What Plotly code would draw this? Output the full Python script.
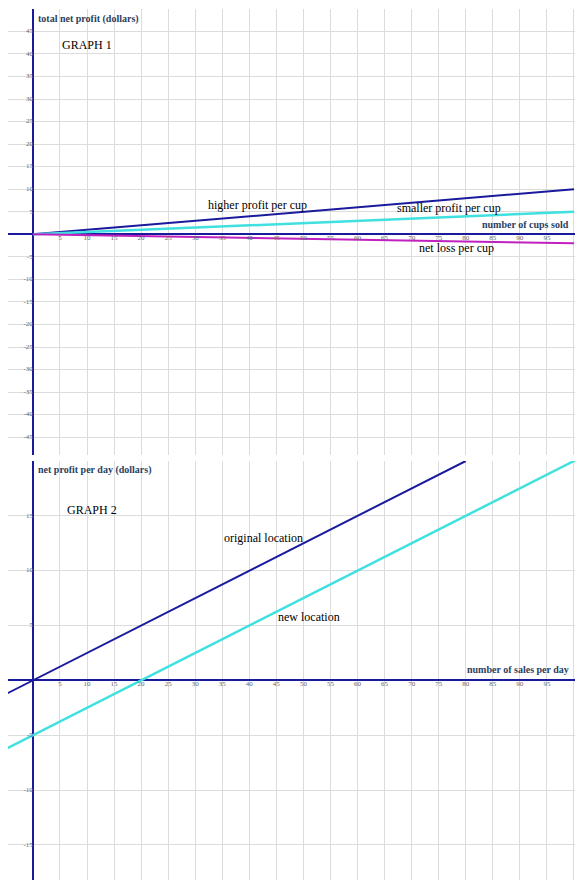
import plotly.graph_objects as go

x_end = [0, 100]
higher = [0, 10]
smaller = [0, 5]
loss = [0, -2]
x2_orig = [-6, 80]
orig = [-1.5, 20]
x2_new = [-6, 102]
new = [-6.5, 20.5]

xt = list(range(5, 100, 5))
yt1 = [v for v in range(-45, 50, 5) if v != 0]
yt2 = [-15, -10, -5, 5, 10, 15]

navy = "#1a1a9c"
cyan = "#40e0e0"
mag = "#c020c0"
font = dict(family="Liberation Serif", size=12, color="black")
tickfont = dict(family="Liberation Serif", size=7, color="#666666")

fig = go.Figure()
# graph 1
fig.add_trace(go.Scatter(x=x_end, y=higher, mode="lines", line=dict(color=navy, width=2), xaxis="x", yaxis="y"))
fig.add_trace(go.Scatter(x=x_end, y=smaller, mode="lines", line=dict(color=cyan, width=2.5), xaxis="x", yaxis="y"))
fig.add_trace(go.Scatter(x=x_end, y=loss, mode="lines", line=dict(color=mag, width=2), xaxis="x", yaxis="y"))
fig.add_trace(go.Scatter(x=xt, y=[0] * len(xt), mode="text", text=[str(v) for v in xt], textposition="bottom center",
                         textfont=tickfont, xaxis="x", yaxis="y"))
fig.add_trace(go.Scatter(x=[0] * len(yt1), y=yt1, mode="text", text=[str(v) for v in yt1], textposition="middle left",
                         textfont=tickfont, xaxis="x", yaxis="y"))
# graph 2
fig.add_trace(go.Scatter(x=x2_orig, y=orig, mode="lines", line=dict(color=navy, width=2), xaxis="x2", yaxis="y2"))
fig.add_trace(go.Scatter(x=x2_new, y=new, mode="lines", line=dict(color=cyan, width=2.5), xaxis="x2", yaxis="y2"))
fig.add_trace(go.Scatter(x=xt, y=[0] * len(xt), mode="text", text=[str(v) for v in xt], textposition="bottom center",
                         textfont=tickfont, xaxis="x2", yaxis="y2"))
fig.add_trace(go.Scatter(x=[0] * len(yt2), y=yt2, mode="text", text=[str(v) for v in yt2], textposition="middle left",
                         textfont=tickfont, xaxis="x2", yaxis="y2"))

grid = dict(showgrid=True, gridcolor="#dcdcdc", gridwidth=1, showticklabels=False, ticks="",
            zeroline=True, zerolinecolor=navy, zerolinewidth=1.5, showline=False, fixedrange=True)
# the page body adds an 8px margin, so domains are shifted up/left to compensate
fig.update_layout(
    width=587, height=891, showlegend=False,
    margin=dict(l=0, r=0, t=0, b=0),
    paper_bgcolor="white", plot_bgcolor="white",
    xaxis=dict(grid, domain=[0, 0.966], range=[-4.6, 100.2], dtick=5, anchor="y"),
    yaxis=dict(grid, domain=[0.498, 0.999], range=[-49, 50], dtick=5, anchor="x"),
    xaxis2=dict(grid, domain=[0, 0.966], range=[-4.6, 100.2], dtick=5, anchor="y2"),
    yaxis2=dict(grid, domain=[0.0213, 0.4916], range=[-18.2, 20], dtick=5, anchor="x2"),
    annotations=[
        dict(x=0.5, y=49.5, xref="x", yref="y", text="<b>total net profit (dollars)</b>", showarrow=False,
             xanchor="left", yanchor="top", font=dict(family="Liberation Serif", size=10)),
        dict(x=5, y=42, xref="x", yref="y", text="GRAPH 1", showarrow=False, xanchor="left", font=font),
        dict(x=32, y=6.5, xref="x", yref="y", text="higher profit per cup", showarrow=False, xanchor="left", font=font),
        dict(x=67, y=5.8, xref="x", yref="y", text="smaller profit per cup", showarrow=False, xanchor="left", font=font),
        dict(x=71, y=-3, xref="x", yref="y", text="net loss per cup", showarrow=False, xanchor="left", font=font),
        dict(x=99.5, y=0.6, xref="x", yref="y", text="<b>number of cups sold</b>", showarrow=False,
             xanchor="right", yanchor="bottom", font=dict(family="Liberation Serif", size=10)),
        dict(x=0.5, y=19.9, xref="x2", yref="y2", text="<b>net profit per day (dollars)</b>", showarrow=False,
             xanchor="left", yanchor="top", font=dict(family="Liberation Serif", size=10)),
        dict(x=6, y=15.5, xref="x2", yref="y2", text="GRAPH 2", showarrow=False, xanchor="left", font=font),
        dict(x=35, y=13, xref="x2", yref="y2", text="original location", showarrow=False, xanchor="left", font=font),
        dict(x=45, y=5.8, xref="x2", yref="y2", text="new location", showarrow=False, xanchor="left", font=font),
        dict(x=99.5, y=0.3, xref="x2", yref="y2", text="<b>number of sales per day</b>", showarrow=False,
             xanchor="right", yanchor="bottom", font=dict(family="Liberation Serif", size=10)),
    ],
)
fig.write_html("out.html")
